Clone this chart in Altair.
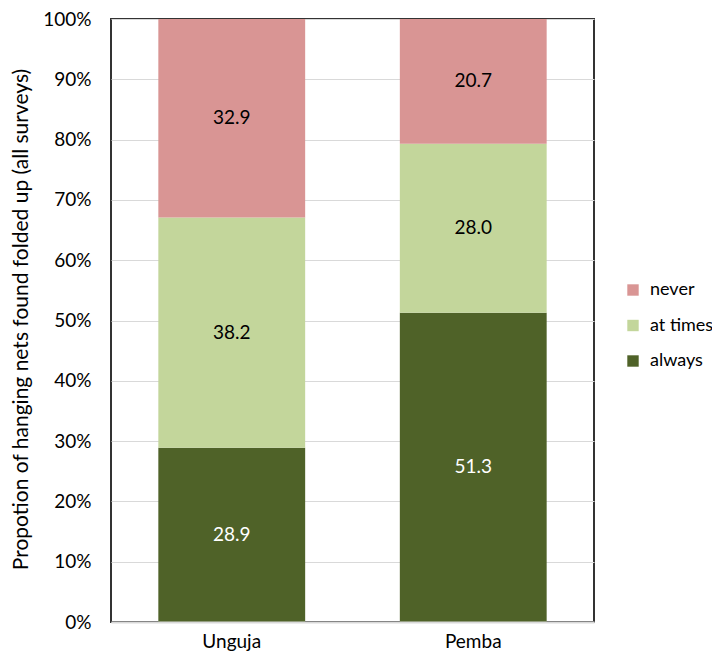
import altair as alt
import pandas as pd

islands = ["Unguja", "Pemba"]
categories = ["always", "at times", "never"]
always_vals = [28.9, 51.3]
at_times_vals = [38.2, 28.0]
never_vals = [32.9, 20.7]
colors = ["#4F6228", "#C3D69B", "#D99594"]
y_ticks = [0, 10, 20, 30, 40, 50, 60, 70, 80, 90, 100]

rows = []
for i, isl in enumerate(islands):
    for k, (cat, vals) in enumerate(zip(categories, [always_vals, at_times_vals, never_vals])):
        rows.append({"island": isl, "category": cat, "value": vals[i], "order": k,
                     "label": f"{vals[i]:.1f}"})
df = pd.DataFrame(rows)

FONT = "Lato"

base = alt.Chart(df).transform_stack(
    stack="value", groupby=["island"], as_=["y0", "y1"],
    sort=[alt.SortField("order", order="ascending")]
).transform_calculate(mid="(datum.y0 + datum.y1) / 2")

xenc = alt.X("island:N", sort=islands, title=None,
             scale=alt.Scale(paddingInner=0.392, paddingOuter=0.196),
             axis=alt.Axis(labelAngle=0, labelFontSize=19, labelFont=FONT, labelColor="#000000",
                           labelPadding=10, ticks=False, domainColor="#D9D9D9", domainWidth=2,
                           zindex=2))

bars = base.mark_bar(stroke=None).encode(
    x=xenc,
    y=alt.Y("y0:Q", scale=alt.Scale(domain=[0, 100], nice=False),
            title="Propotion of hanging nets found folded up (all surveys)",
            axis=alt.Axis(values=y_ticks, labelExpr="datum.value + '%'",
                          labelFontSize=19, labelFont=FONT, labelColor="#000000",
                          labelPadding=20, ticks=False, domain=False,
                          gridColor="#D9D9D9", gridWidth=1,
                          titleFont=FONT, titleFontSize=21, titleFontWeight="normal",
                          titleColor="#000000", titleX=-90, titleY=300, titleAngle=-90,
                          titleBaseline="middle", titleAlign="center")),
    y2="y1:Q",
    color=alt.Color("category:N",
                    scale=alt.Scale(domain=categories, range=colors),
                    sort=["never", "at times", "always"],
                    legend=alt.Legend(title=None, orient="none", legendX=513, legendY=262,
                                      symbolType="square", symbolSize=130,
                                      symbolStrokeWidth=0,
                                      labelFontSize=18, labelFont=FONT, labelColor="#000000",
                                      rowPadding=17.5, labelOffset=8, padding=0,
                                      values=["never", "at times", "always"])),
)

labels = base.mark_text(fontSize=19, font=FONT, baseline="middle", align="center").encode(
    x=alt.X("island:N", sort=islands),
    y=alt.Y("mid:Q"),
    text="label:N",
    color=alt.condition(alt.datum.category == "always", alt.value("#FFFFFF"), alt.value("#000000")),
)

chart = alt.layer(bars, labels).properties(
    width=483, height=603,
    autosize=alt.AutoSizeParams(type="none"),
    padding={"left": 103, "top": 11, "right": 118, "bottom": 37},
).configure(background="#FFFFFF").configure_view(stroke="#333333", strokeWidth=2)

chart.save("out.html", embed_options={"renderer": "svg", "actions": False})
